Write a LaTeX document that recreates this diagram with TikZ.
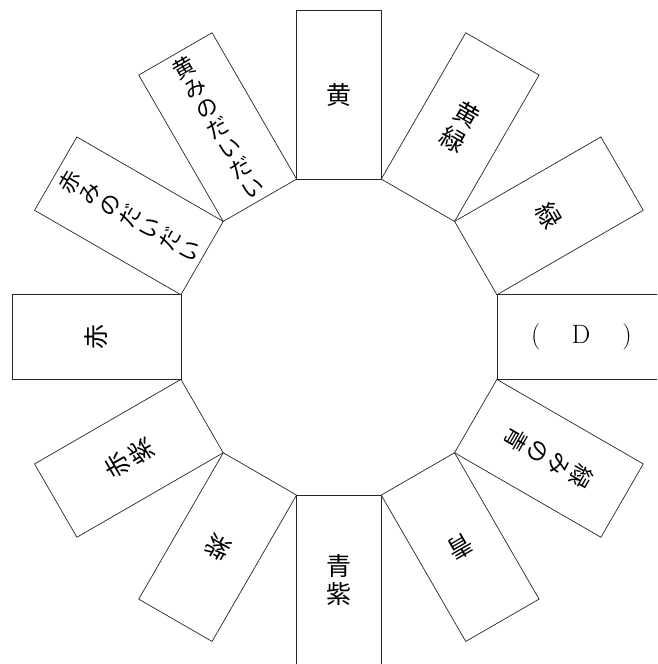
\documentclass[tikz,border=0pt]{standalone}
\usepackage{fontspec}
\newfontfamily\cjk{Noto Sans CJK JP}
\tikzset{
  card/.style={draw=black!85, line width=0.7pt, minimum width=84.67pt, minimum height=169pt,
    inner sep=0pt, outer sep=0pt, align=center},
  jtwo/.style={font=\cjk\fontsize{25}{28}\selectfont},
  jfour/.style={font=\cjk\fontsize{23}{25}\selectfont},
  jseven/.style={font=\cjk\fontsize{22}{23}\selectfont},
}
\begin{document}
\begin{tikzpicture}[x=1pt,y=1pt]
\useasboundingbox (0,0) rectangle (657,664);
\clip (0,0) rectangle (657,664);
\begin{scope}[shift={(338.9,326.9)}]
  \node[card, jtwo, rotate=0]    (c90)  at (90:242.5)   {黄};
  \node[card, jtwo, rotate=-30]  (c60)  at (60:242.5)   {黄\\緑};
  \node[card, jtwo, rotate=-60]  (c30)  at (30:242.5)   {緑};
  \node[card, minimum width=169pt, minimum height=84.67pt, font=\fontsize{26.5}{30}\selectfont]
                                 (c0)   at (0:242.5)    {(\hspace{31pt}D\hspace{32pt})};
  \node[card, jfour, rotate=-120] (cm30) at (-30:242.5) {緑\\み\\の\\青};
  \node[card, jtwo, rotate=-150] (cm60) at (-60:242.5)  {青};
  \node[card, jtwo, rotate=0]    (cm90) at (-90:242.5)  {青\\紫};
  \node[card, jtwo, rotate=150]  (cm120) at (-120:242.5) {紫};
  \node[card, jtwo, rotate=120]  (cm150) at (-150:242.5) {赤\\紫};
  \node[card, jtwo, rotate=90]   (c180) at (180:242.5)  {赤};
  \node[card, jseven, rotate=60] (c150) at (150:242.5)  {赤\\み\\の\\だ\\い\\だ\\い};
  \node[card, jseven, rotate=30] (c120) at (120:242.5)  {黄\\み\\の\\だ\\い\\だ\\い};
\end{scope}
\end{tikzpicture}
\end{document}
